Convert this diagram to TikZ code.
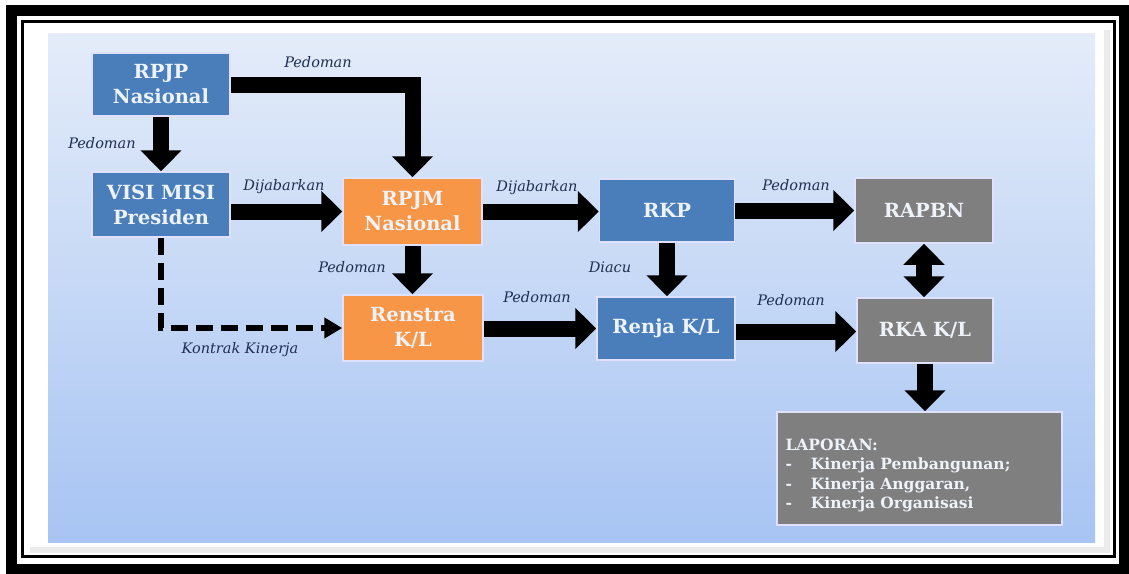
\documentclass[tikz,border=0pt]{standalone}
\usepackage{fontspec}
\setmainfont{DejaVu Serif}
\usetikzlibrary{arrows.meta}

\definecolor{boxblue}{HTML}{4A7EBB}
\definecolor{boxorange}{HTML}{F79646}
\definecolor{boxgray}{HTML}{7F7F7F}
\definecolor{boxtext}{HTML}{EEF3FA}
\definecolor{labelnavy}{HTML}{1F2F52}
\definecolor{paneltop}{HTML}{E4ECF9}
\definecolor{panelbottom}{HTML}{A7C4F3}

\begin{document}
\begin{tikzpicture}[x=1pt,y=-1pt,
  plan/.style={rectangle,draw=white!88!blue,line width=1.5pt,text=boxtext,align=center,
    font=\bfseries\fontsize{19.5}{25}\selectfont,inner sep=0pt},
  lbl/.style={text=labelnavy,font=\itshape\fontsize{14.5}{16}\selectfont,inner sep=0pt},
  blockarrow/.style={line width=16pt,line join=miter,-{Triangle[width=40pt,length=21pt]}},
  twoway/.style={line width=16pt,{Triangle[width=40pt,length=21pt]}-{Triangle[width=40pt,length=21pt]}},
  dasharrow/.style={line width=6.5pt,dash pattern=on 17pt off 8pt,line join=miter,-{Triangle[width=20pt,length=18pt]}}]
\useasboundingbox (0,0) rectangle (1129,573);

% frame and panel
\fill[white] (22,21.5) rectangle (1114.5,556.5);
\fill[black!8] (30,30) rectangle (1110,553);
\fill[white] (24,23.5) rectangle (1104,547);
\shade[top color=paneltop,bottom color=panelbottom] (48,33) rectangle (1095,542);
\draw[line width=11pt] (11.5,10.5) rectangle (1124.5,569);
\draw[line width=3pt] (22,21.5) rectangle (1114.5,556.5);

% boxes
\node[plan,fill=boxblue,minimum width=138pt,minimum height=63pt] (rpjp) at (161,84.5) {RPJP\\Nasional};
\node[plan,fill=boxblue,minimum width=138pt,minimum height=65pt] (visi) at (161,204.5) {VISI MISI\\Presiden};
\node[plan,fill=boxorange,minimum width=139pt,minimum height=67pt] (rpjm) at (412.5,211.5) {RPJM\\Nasional};
\node[plan,fill=boxblue,minimum width=135pt,minimum height=63pt] (rkp) at (667,210.5) {RKP};
\node[plan,fill=boxorange,minimum width=140pt,minimum height=66pt] (renstra) at (413,328) {Renstra\\K/L};
\node[plan,fill=boxblue,minimum width=138pt,minimum height=63pt] (renja) at (666,328.5) {Renja K/L};
\node[plan,fill=boxgray,minimum width=138pt,minimum height=65pt] (rapbn) at (924,210.5) {RAPBN};
\node[plan,fill=boxgray,minimum width=136pt,minimum height=65pt] (rka) at (925,330.5) {RKA K/L};
\node[plan,fill=boxgray,minimum width=285pt,minimum height=113pt,align=left,text width=268pt,
  font=\bfseries\fontsize{15.5}{19.5}\selectfont] (laporan) at (919.5,468.5)
  {\rule{0pt}{25pt}LAPORAN:\\
   -\hspace{19pt}Kinerja Pembangunan;\\
   -\hspace{19pt}Kinerja Anggaran,\\
   -\hspace{19pt}Kinerja Organisasi};

% connectors
\draw[blockarrow] (rpjp.east) -| (rpjm.north);
\draw[blockarrow] (rpjp.south) -- (visi.north);
\draw[blockarrow] (visi.east |- rpjm.west) -- (rpjm.west);
\draw[blockarrow] (rpjm.east) -- (rpjm.east -| rkp.west);
\draw[blockarrow] (rkp.east) -- (rkp.east -| rapbn.west);
\draw[blockarrow] (rpjm.south) -- (rpjm.south |- renstra.north);
\draw[blockarrow] (rkp.south) -- (rkp.south |- renja.north);
\draw[blockarrow] (renstra.east |- renja.west) -- (renja.west);
\draw[blockarrow] ([yshift=-3pt]renja.east) -- ([yshift=-3pt]renja.east -| rka.west);
\draw[twoway] (rapbn.south) -- (rapbn.south |- rka.north);
\draw[blockarrow] (rka.south) -- (rka.south |- laporan.north);
\draw[dasharrow] (visi.south) |- (renstra.west);

% labels
\node[lbl] (l1) at (318,62) {Pedoman};
\node[lbl] (l2) at (102,143) {Pedoman};
\node[lbl] (l3) at (284,187) {Dijabarkan};
\node[lbl] (l4) at (537,188) {Dijabarkan};
\node[lbl] (l5) at (796,185) {Pedoman};
\node[lbl] (l6) at (352,267) {Pedoman};
\node[lbl] (l7) at (610,267) {Diacu};
\node[lbl] (l8) at (537,297) {Pedoman};
\node[lbl] (l9) at (791,300) {Pedoman};
\node[lbl] (l10) at (240,350) {Kontrak Kinerja};
\end{tikzpicture}
\end{document}
